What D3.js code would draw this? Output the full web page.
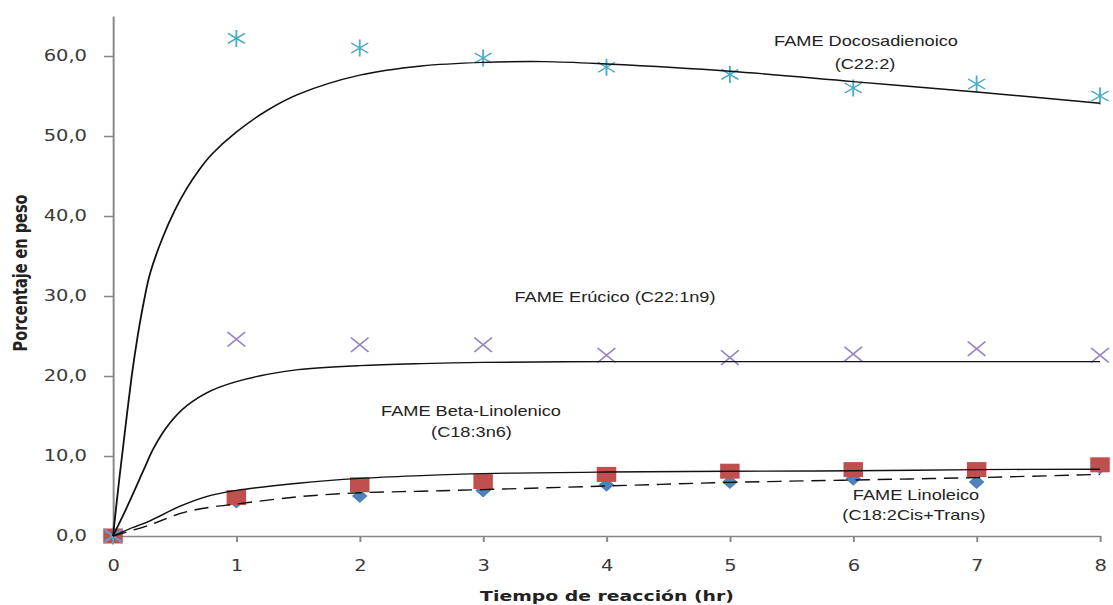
<!DOCTYPE html>
<html>
<head>
<meta charset="utf-8">
<script src="https://cdn.jsdelivr.net/npm/d3@7"></script>
<style>
  body { margin: 0; background: #fff; }
  svg { display: block; }
</style>
</head>
<body>
<svg id="chart"></svg>
<script>
const times = [0, 1, 2, 3, 4, 5, 6, 7, 8]
const docosadienoico = [0, 62.2, 61.0, 59.75, 58.6, 57.7, 56.0, 56.5, 55.0]
const erucico = [0, 24.6, 23.9, 23.9, 22.6, 22.3, 22.75, 23.4, 22.6]
const betaLinolenico = [0, 4.8, 6.4, 6.8, 7.7, 8.1, 8.3, 8.3, 8.9]
const linoleico = [0, 4.3, 5.0, 5.7, 6.4, 6.75, 7.15, 6.75, 8.6]

// Fitted model curves
const docosaFitT = [0, 0.05, 0.1, 0.15, 0.2, 0.25, 0.3, 0.4, 0.5, 0.6, 0.7, 0.8, 1, 1.25, 1.5, 2, 2.5, 3, 3.5, 4, 5, 6, 7, 8]
const docosaFitV = [0, 7, 13.5, 19.8, 25, 29.3, 32.8, 37.2, 40.7, 43.5, 45.8, 47.7, 50.5, 53.2, 55.2, 57.6, 58.75, 59.2, 59.3, 59.0, 58.1, 56.8, 55.5, 54.1]
const erucicoFitT = [0, 0.11, 0.25, 0.33, 0.46, 0.6, 0.8, 1, 1.25, 1.5, 2, 2.5, 3, 4, 5, 6, 7, 8]
const erucicoFitV = [0, 3.5, 8.3, 11, 14.1, 16.3, 18.2, 19.3, 20.2, 20.8, 21.3, 21.55, 21.7, 21.8, 21.8, 21.8, 21.8, 21.8]
const betaFitT = [0, 0.15, 0.3, 0.54, 0.75, 1, 1.5, 2, 2.5, 3, 4, 5, 6, 7, 8]
const betaFitV = [0, 1.0, 1.9, 3.7, 4.9, 5.7, 6.6, 7.2, 7.55, 7.8, 8.0, 8.1, 8.15, 8.3, 8.35]
const linoFitT = [0, 0.3, 0.54, 0.75, 1, 1.5, 2, 2.5, 3, 4, 5, 6, 7, 8]
const linoFitV = [0, 1.4, 2.8, 3.5, 4.0, 4.9, 5.4, 5.6, 5.8, 6.25, 6.7, 7.0, 7.3, 7.7]

const xTicks = [0, 1, 2, 3, 4, 5, 6, 7, 8]
const yTicks = [0, 10, 20, 30, 40, 50, 60]

// The source picture is stretched sideways, so draw in a narrower box and stretch it
const outW = 1113
const outH = 605
const stretch = 1.3
const width = outW / stretch

const svg = d3.select('#chart')
    .attr('width', outW)
    .attr('height', outH)
    .attr('viewBox', `0 0 ${width} ${outH}`)
    .attr('preserveAspectRatio', 'none')

const x = d3.scaleLinear().domain([0, 8]).range([113 / stretch, 1100 / stretch])
const y = d3.scaleLinear().domain([0, 65]).range([536, 16])

const axisColor = '#878787'
const labelColor = '#3a3a3a'

// axes
svg.append('g')
    .attr('transform', `translate(${x(0)},0)`)
    .call(d3.axisLeft(y).tickValues(yTicks).tickSize(7).tickSizeOuter(0).tickPadding(13)
        .tickFormat(d => d.toFixed(1).replace('.', ',')))

svg.append('g')
    .attr('transform', `translate(0,${y(0)})`)
    .call(d3.axisBottom(x).tickValues(xTicks).tickSize(6).tickSizeOuter(0).tickPadding(18))

svg.selectAll('.domain, .tick line')
    .attr('stroke', axisColor)
    .attr('stroke-width', 1.5)
svg.selectAll('.tick text')
    .attr('fill', labelColor)
    .style('font-family', 'DejaVu Sans, sans-serif')
    .style('font-size', '15px')

// markers
const pts = (vals) => times.map((t, i) => [t, vals[i]])

svg.append('g').selectAll('path')
    .data(pts(linoleico))
    .enter().append('path')
    .attr('transform', d => `translate(${x(d[0])},${y(d[1])})`)
    .attr('d', 'M0,-7L6,0L0,7L-6,0Z')
    .attr('fill', '#4F81BD')

svg.append('g').selectAll('rect')
    .data(pts(betaLinolenico))
    .enter().append('rect')
    .attr('x', d => x(d[0]) - 7.5)
    .attr('y', d => y(d[1]) - 7.5)
    .attr('width', 15)
    .attr('height', 15)
    .attr('fill', '#C0504D')

svg.append('g').selectAll('path')
    .data(pts(erucico))
    .enter().append('path')
    .attr('transform', d => `translate(${x(d[0])},${y(d[1])})`)
    .attr('d', 'M-6.8,-7.3L6.8,7.3M-6.8,7.3L6.8,-7.3')
    .attr('stroke', '#9683C4')
    .attr('stroke-width', 1.4)
    .attr('fill', 'none')

svg.append('g').selectAll('path')
    .data(pts(docosadienoico))
    .enter().append('path')
    .attr('transform', d => `translate(${x(d[0])},${y(d[1])})`)
    .attr('d', 'M0,-8.5L0,8.5M-6.5,-5L6.5,5M-6.5,5L6.5,-5')
    .attr('stroke', '#4BACC6')
    .attr('stroke-width', 1.4)
    .attr('fill', 'none')

// fitted curves
const line = d3.line()
    .x(d => x(d[0]))
    .y(d => y(d[1]))
    .curve(d3.curveCatmullRom.alpha(0.5))

const fits = [
    { t: docosaFitT, v: docosaFitV, dash: null },
    { t: erucicoFitT, v: erucicoFitV, dash: null },
    { t: betaFitT, v: betaFitV, dash: null },
    { t: linoFitT, v: linoFitV, dash: '11,6' }
]

fits.forEach(f => {
    svg.append('path')
        .datum(f.t.map((t, i) => [t, f.v[i]]))
        .attr('d', line)
        .attr('fill', 'none')
        .attr('stroke', '#111')
        .attr('stroke-width', 1.4)
        .attr('stroke-dasharray', f.dash)
})

// labels on the curves
const notes = [
    { text: 'FAME Docosadienoico', cx: 866, by: 46.5 },
    { text: '(C22:2)', cx: 865, by: 69 },
    { text: 'FAME Erúcico (C22:1n9)', cx: 615, by: 302 },
    { text: 'FAME Beta-Linolenico', cx: 471, by: 416 },
    { text: '(C18:3n6)', cx: 471.5, by: 437 },
    { text: 'FAME Linoleico', cx: 916, by: 500 },
    { text: '(C18:2Cis+Trans)', cx: 914, by: 520 }
]

svg.append('g').selectAll('text')
    .data(notes)
    .enter().append('text')
    .attr('x', d => d.cx / stretch)
    .attr('y', d => d.by)
    .attr('text-anchor', 'middle')
    .attr('fill', '#222')
    .style('font-family', 'Liberation Sans, Arial, sans-serif')
    .style('font-size', '14px')
    .text(d => d.text)

// axis titles
svg.append('text')
    .attr('x', 607 / stretch)
    .attr('y', 601)
    .attr('text-anchor', 'middle')
    .attr('fill', '#222')
    .style('font-family', 'DejaVu Sans, sans-serif')
    .style('font-size', '14.5px')
    .style('font-weight', 'bold')
    .text('Tiempo de reacción (hr)')

svg.append('text')
    .attr('transform', `translate(${27 / stretch},273) rotate(-90)`)
    .attr('text-anchor', 'middle')
    .attr('fill', '#222')
    .style('font-family', 'DejaVu Sans, sans-serif')
    .style('font-size', '14.5px')
    .style('font-weight', 'bold')
    .text('Porcentaje en peso')
</script>
</body>
</html>
